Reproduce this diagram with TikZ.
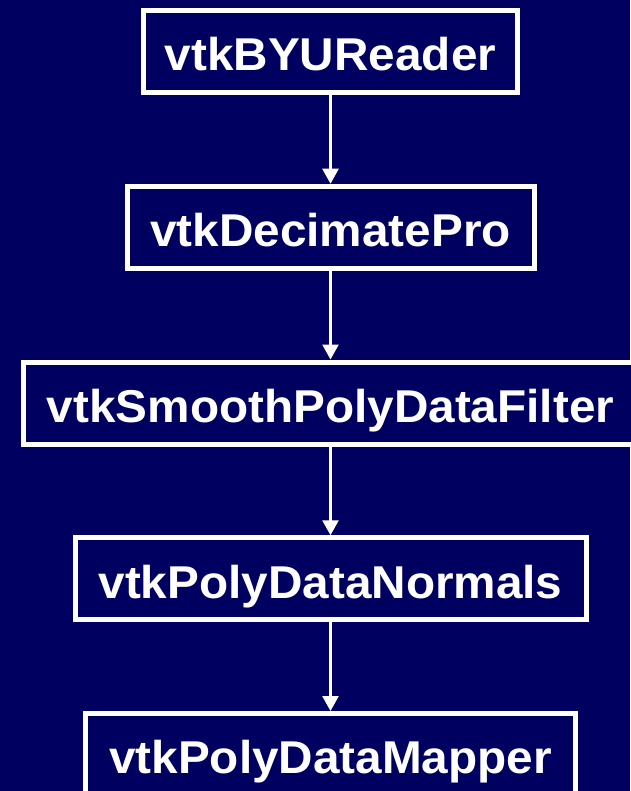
\documentclass[tikz,border=0pt]{standalone}
\usepackage{fontspec}
\newfontfamily\classfont{Liberation Sans}[FakeStretch=1.037]
\usetikzlibrary{arrows.meta}
\definecolor{slidenavy}{RGB}{0,0,96}
\tikzset{
  classbox/.style={draw=white, line width=5pt, fill=slidenavy, text=white,
    inner sep=0pt, minimum height=82pt, text height=38.5pt, text depth=0pt,
    font=\classfont\bfseries\fontsize{46}{50}\selectfont},
  flow/.style={draw=white, line width=2.5pt,
    -{Triangle[length=15pt, width=16pt]}}
}
\begin{document}
\begin{tikzpicture}[x=1pt, y=-1pt]
  \fill[slidenavy] (0,0) rectangle (630,791);
  \useasboundingbox (0,0) rectangle (630,791);
  \node[classbox, minimum width=374pt] (reader)   at (330.5,51.5)   {vtkBYUReader};
  \node[classbox, minimum width=407pt] (decimate) at (330.5,227.25) {vtkDecimatePro};
  \node[classbox, minimum width=614pt] (smooth)   at (330.5,403)    {vtkSmoothPolyDataFilter};
  \node[classbox, minimum width=511pt] (normals)  at (330.5,578.75) {vtkPolyDataNormals};
  \node[classbox, minimum width=490pt] (mapper)   at (330.5,754.5)  {vtkPolyDataMapper};
  \draw[flow] (reader) -- (decimate);
  \draw[flow] (decimate) -- (smooth);
  \draw[flow] (smooth) -- (normals);
  \draw[flow] (normals) -- (mapper);
\end{tikzpicture}
\end{document}
